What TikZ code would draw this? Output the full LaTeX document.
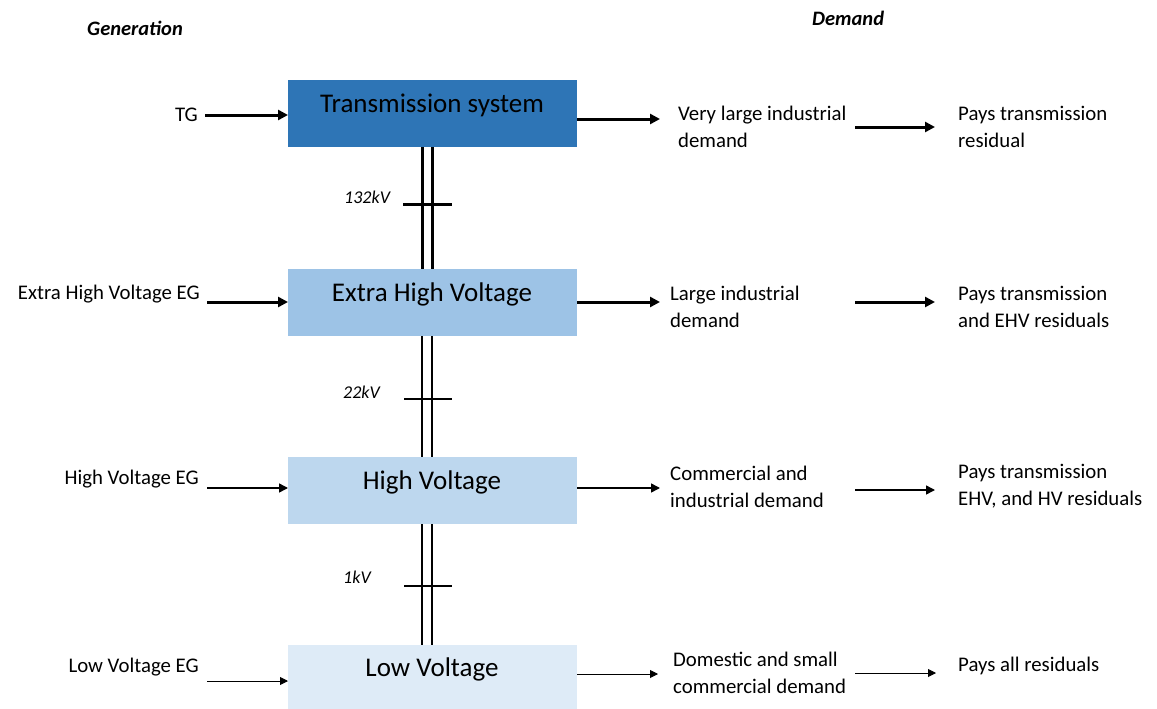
\documentclass[tikz,border=0pt]{standalone}
\usepackage{fontspec}
\setmainfont{Carlito}
\usetikzlibrary{arrows.meta}
\definecolor{tcol}{HTML}{2E75B6}
\definecolor{ehvcol}{HTML}{9DC3E6}
\definecolor{hvcol}{HTML}{BDD7EE}
\definecolor{lvcol}{HTML}{DEEBF7}
\tikzset{
  vbox/.style={rectangle, draw=none, minimum width=289pt, minimum height=67pt, anchor=north west, inner sep=0pt},
  boxtext/.style={font=\fontsize{27}{30}\selectfont, inner sep=0pt},
  txt/.style={font=\fontsize{20.8}{27}\selectfont, align=left, anchor=west, inner sep=0pt},
  ltxt/.style={font=\fontsize{20.8}{27}\selectfont, anchor=east, inner sep=0pt},
  kv/.style={font=\fontsize{18}{20}\selectfont\itshape, anchor=west, inner sep=0pt},
  head/.style={font=\fontsize{20.5}{22}\selectfont\bfseries\itshape, anchor=west, inner sep=0pt},
  arA/.style={line width=3pt, -{Triangle[length=10pt,width=10pt]}},
  arC/.style={line width=1.5pt, -{Triangle[length=9pt,width=9pt]}},
  arD/.style={line width=0.9pt, -{Triangle[length=8pt,width=8pt]}},
}
\begin{document}
\begin{tikzpicture}[x=1pt,y=-1pt]
\useasboundingbox (0,0) rectangle (1157,709);
% headers
\node[head] (gen) at (87,28) {Generation};
\node[head] (dem) at (812,18) {Demand};
% boxes
\node[vbox, fill=tcol] (t) at (288,80) {};
\node[vbox, fill=ehvcol] (e) at (288,269) {};
\node[vbox, fill=hvcol] (h) at (288,457) {};
\node[vbox, fill=lvcol, minimum height=64pt] (l) at (288,645) {};
\node[boxtext] (tt) at (432,105.5) {Transmission system};
\node[boxtext] (et) at (432,294.5) {Extra High Voltage};
\node[boxtext] (ht) at (432,482.5) {High Voltage};
\node[boxtext] (lt) at (432,669.5) {Low Voltage};
% double lines
\draw[line width=3pt] ([xshift=-10.5pt]t.south) -- ([xshift=-10.5pt]e.north);
\draw[line width=3pt] ([xshift=-0.5pt]t.south) -- ([xshift=-0.5pt]e.north);
\draw[line width=2.2pt] ([xshift=-10.5pt]e.south) -- ([xshift=-10.5pt]h.north);
\draw[line width=2.2pt] ([xshift=-0.5pt]e.south) -- ([xshift=-0.5pt]h.north);
\draw[line width=1.5pt] ([xshift=-10.5pt]h.south) -- ([xshift=-10.5pt]l.north);
\draw[line width=1.5pt] ([xshift=-0.5pt]h.south) -- ([xshift=-0.5pt]l.north);
% ticks
\coordinate (k1a) at (403,204); \coordinate (k1b) at (452,204);
\coordinate (k2a) at (404,399); \coordinate (k2b) at (452,399);
\coordinate (k3a) at (404,586); \coordinate (k3b) at (452,586);
\draw[line width=3pt] (k1a) -- (k1b);
\draw[line width=2.2pt] (k2a) -- (k2b);
\draw[line width=1.1pt] (k3a) -- (k3b);
\node[kv] (kv1) at (344,197) {132kV};
\node[kv] (kv2) at (343,392) {22kV};
\node[kv] (kv3) at (343,577) {1kV};
% generation labels
\node[ltxt] (tg) at (198,115) {TG};
\node[ltxt] (ehveg) at (200,294) {Extra High Voltage EG};
\node[ltxt] (hveg) at (199,479) {High Voltage EG};
\node[ltxt] (lveg) at (199,667) {Low Voltage EG};
\coordinate (g1) at (205,115);
\coordinate (g2) at (207,302);
\coordinate (g3) at (207,488);
\coordinate (g4) at (207,681);
\draw[arA] (g1) -- (g1 -| t.west);
\draw[arA] (g2) -- (g2 -| e.west);
\draw[arC] (g3) -- (g3 -| h.west);
\draw[arD] (g4) -- (g4 -| l.west);
% demand labels
\node[txt] (d1) at (678,126.5) {Very large industrial\\demand};
\node[txt] (d2) at (670,306.5) {Large industrial\\demand};
\node[txt] (d3) at (670,486.5) {Commercial and\\industrial demand};
\node[txt] (d4) at (673,672.5) {Domestic and small\\commercial demand};
\node[txt] (p1) at (958,126.5) {Pays transmission\\residual};
\node[txt] (p2) at (958,306.5) {Pays transmission\\and EHV residuals};
\node[txt] (p3) at (958,486.5) {Pays transmission\\EHV, and HV residuals};
\node[txt] (p4) at (958,666) {Pays all residuals};
% arrows box -> demand
\coordinate (r1) at (660,119);
\coordinate (r2) at (660,302);
\coordinate (r3) at (660,488);
\coordinate (r4) at (658,674);
\draw[arA] (r1 -| t.east) -- (r1);
\draw[arA] (r2 -| e.east) -- (r2);
\draw[arC] (r3 -| h.east) -- (r3);
\draw[arD] (r4 -| l.east) -- (r4);
% arrows demand -> pays
\coordinate (s1a) at (855,127); \coordinate (s1b) at (935,127);
\coordinate (s2a) at (855,302); \coordinate (s2b) at (935,302);
\coordinate (s3a) at (855,490); \coordinate (s3b) at (935,490);
\coordinate (s4a) at (855,673); \coordinate (s4b) at (936,673);
\draw[arA] (s1a) -- (s1b);
\draw[arA] (s2a) -- (s2b);
\draw[arC] (s3a) -- (s3b);
\draw[arD] (s4a) -- (s4b);
\end{tikzpicture}
\end{document}
